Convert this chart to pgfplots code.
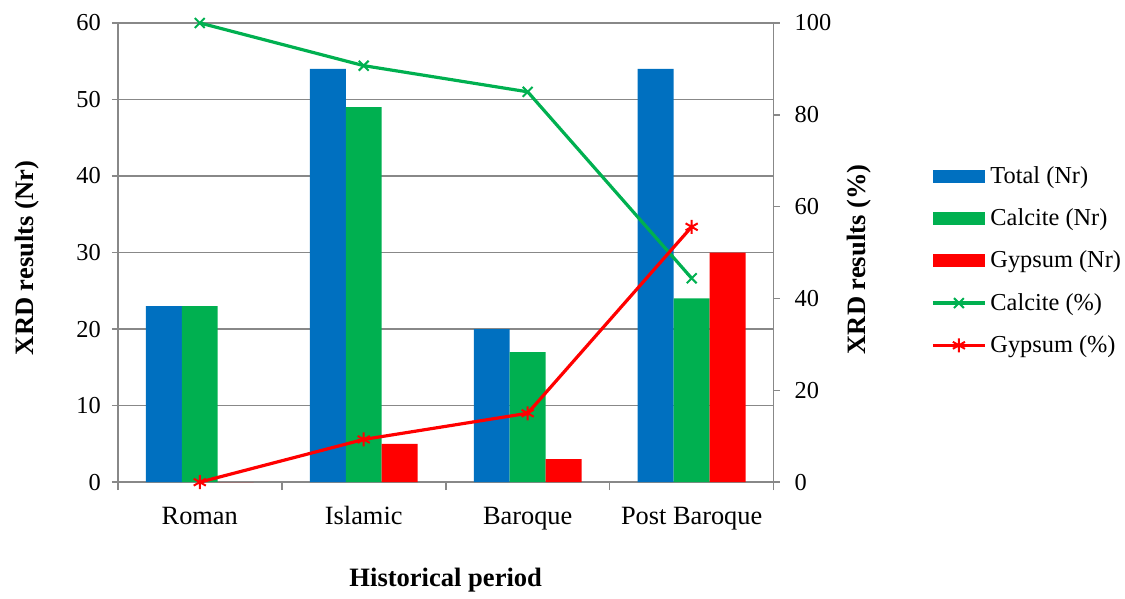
\documentclass[border=0pt]{standalone}
\usepackage{fontspec}
\setmainfont{Liberation Serif}
\usepackage{pgfplots}
\pgfplotsset{compat=1.18}
\definecolor{totalblue}{HTML}{0070C0}
\definecolor{calcgreen}{HTML}{00B050}
\definecolor{gypred}{HTML}{FF0000}
\definecolor{axisgray}{HTML}{888888}

\begin{document}
\begin{tikzpicture}
\pgfplotsset{
  every axis/.append style={
    scale only axis, width=328.5pt, height=230pt,
    at={(0pt,0pt)}, anchor=south west,
    xmin=-0.5, xmax=3.5,
    /pgf/number format/assume math mode=true,
    yticklabel style={font=\fontsize{12.2}{14}\selectfont},
    xticklabel style={font=\fontsize{13.2}{15}\selectfont},
    label style={font=\fontsize{13.3}{15}\selectfont\bfseries},
    axis line style={-, axisgray, line width=0.8pt},
    tick style={axisgray, line width=0.8pt},
    tick align=outside,
  }
}
% primary axis: counts
\begin{axis}[
  ybar=0pt, bar width=18pt,
  ymin=0, ymax=60, ytick={0,10,...,60},
  axis y line*=left, axis x line*=bottom,
  ymajorgrids, grid style={axisgray, line width=0.8pt},
  xtick={0,1,2,3}, xticklabels={Roman,Islamic,Baroque,Post Baroque},
  major x tick style={draw=none},
  minor xtick={-0.5,0.5,1.5,2.5,3.5},
  major tick length=3pt, minor tick length=4pt,
  xticklabel style={anchor=base, yshift=-18pt},
  yticklabel style={xshift=-2pt},
  xlabel={Historical period}, ylabel={XRD results (Nr)},
  xlabel style={at={(axis description cs:0.5,-0.213)}, anchor=center},
  ylabel style={at={(axis description cs:-0.139,0.488)}, anchor=center, rotate=0},
]
\addplot[fill=totalblue, draw=none] coordinates {(0,23) (1,54) (2,20) (3,54)};
\addplot[fill=calcgreen, draw=none] coordinates {(0,23) (1,49) (2,17) (3,24)};
\addplot[fill=gypred, draw=none] coordinates {(0,0) (1,5) (2,3) (3,30)};
\end{axis}
% secondary axis: percentages
\begin{axis}[
  ymin=0, ymax=100, ytick={0,20,...,100},
  axis y line*=right, axis x line=none,
  xtick=\empty, major tick length=3pt,
  yticklabel style={xshift=4pt},
  ylabel={XRD results (\%)},
  ylabel style={at={(axis description cs:1.131,0.485)}, anchor=center, rotate=0},
  legend style={draw=none, fill=none, inner sep=0pt, outer sep=0pt,
    at={(1.2405,0.482)}, anchor=west,
    font=\fontsize{12.2}{14}\selectfont, row sep=7.2pt,
    /tikz/every even column/.append style={column sep=2pt}},
  legend cell align=left,
  legend image code/.code={\draw[mark repeat=2,mark phase=2,#1] plot coordinates {(0pt,0pt) (13pt,0pt) (26pt,0pt)};},
]
\addlegendimage{legend image code/.code={\fill[totalblue] (0pt,-3pt) rectangle (26pt,3pt);}}
\addlegendentry{Total (Nr)}
\addlegendimage{legend image code/.code={\fill[calcgreen] (0pt,-3pt) rectangle (26pt,3pt);}}
\addlegendentry{Calcite (Nr)}
\addlegendimage{legend image code/.code={\fill[gypred] (0pt,-3pt) rectangle (26pt,3pt);}}
\addlegendentry{Gypsum (Nr)}
\addplot[calcgreen, line width=1.6pt, mark=x, mark size=3.5pt, mark options={line width=1pt}]
  coordinates {(0,100) (1,90.7) (2,85) (3,44.4)};
\addlegendentry{Calcite (\%)}
\addplot[gypred, line width=1.6pt, mark=asterisk, mark size=3.5pt, mark options={line width=1pt}]
  coordinates {(0,0) (1,9.3) (2,15) (3,55.6)};
\addlegendentry{Gypsum (\%)}
\end{axis}
\path[use as bounding box] (-59pt,-54pt) rectangle (503.5pt,241.5pt);
\end{tikzpicture}
\end{document}
